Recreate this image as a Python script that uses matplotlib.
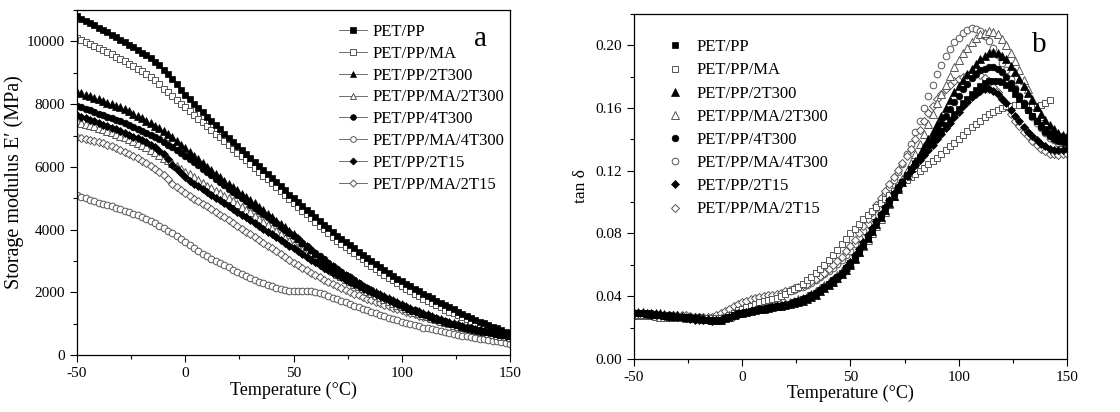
import numpy as np
import matplotlib.pyplot as plt
from matplotlib.lines import Line2D
from matplotlib.ticker import MultipleLocator

plt.rcParams['font.family'] = ['Liberation Serif', 'DejaVu Serif']
plt.rcParams['axes.unicode_minus'] = False

# temperature grid (°C), one reading every 2 °C
temp = np.arange(-50, 151, 2)

names = ['PET/PP', 'PET/PP/MA', 'PET/PP/2T300', 'PET/PP/MA/2T300',
         'PET/PP/4T300', 'PET/PP/MA/4T300', 'PET/PP/2T15', 'PET/PP/MA/2T15']

nan = np.nan

# storage modulus E' (MPa), rows of 20 °C
e_pp = [10800, 10730, 10660, 10590, 10520, 10445, 10370, 10290, 10210, 10130,
        10050, 9970, 9890, 9810, 9730, 9645, 9560, 9460, 9360, 9240,
        9100, 8960, 8800, 8630, 8450, 8300, 8150, 8010, 7870, 7740,
        7600, 7470, 7330, 7200, 7060, 6930, 6800, 6680, 6550, 6420,
        6300, 6170, 6040, 5910, 5780, 5650, 5520, 5390, 5250, 5120,
        5000, 4880, 4760, 4640, 4520, 4400, 4280, 4160, 4040, 3920,
        3800, 3700, 3600, 3500, 3400, 3300, 3200, 3100, 3000, 2900,
        2800, 2710, 2620, 2530, 2440, 2355, 2270, 2190, 2110, 2030,
        1950, 1880, 1810, 1740, 1670, 1600, 1530, 1460, 1390, 1320,
        1250, 1190, 1130, 1070, 1010, 955, 900, 850, 800, 750,
        700]
e_pp_ma = [10100, 10040, 9980, 9920, 9860, 9795, 9730, 9660, 9590, 9520,
           9450, 9370, 9290, 9210, 9130, 9045, 8960, 8870, 8780, 8640,
           8500, 8380, 8260, 8140, 8020, 7900, 7780, 7660, 7540, 7420,
           7300, 7180, 7060, 6940, 6820, 6700, 6580, 6460, 6340, 6220,
           6100, 5970, 5850, 5720, 5600, 5480, 5350, 5230, 5110, 4980,
           4850, 4730, 4610, 4490, 4370, 4250, 4130, 4010, 3890, 3770,
           3650, 3550, 3450, 3350, 3250, 3150, 3050, 2950, 2850, 2750,
           2650, 2560, 2470, 2380, 2290, 2205, 2120, 2040, 1960, 1880,
           1800, 1730, 1660, 1590, 1520, 1455, 1390, 1330, 1270, 1210,
           1150, 1095, 1040, 985, 930, 875, 820, 770, 720, 670,
           620]
e_2t300 = [8400, 8350, 8300, 8250, 8200, 8150, 8100, 8050, 8000, 7950,
           7900, 7840, 7770, 7700, 7620, 7550, 7480, 7400, 7320, 7240,
           7150, 7050, 6940, 6830, 6710, 6600, 6480, 6360, 6240, 6120,
           6000, 5890, 5780, 5670, 5560, 5450, 5350, 5250, 5150, 5050,
           4950, 4840, 4730, 4620, 4510, 4400, 4290, 4180, 4070, 3960,
           3850, 3730, 3610, 3490, 3370, 3250, 3140, 3040, 2940, 2840,
           2750, 2660, 2570, 2480, 2390, 2300, 2220, 2150, 2080, 2010,
           1950, 1880, 1820, 1750, 1680, 1620, 1560, 1500, 1450, 1400,
           1350, 1300, 1250, 1200, 1150, 1100, 1060, 1020, 980, 940,
           900, 870, 840, 810, 780, 755, 730, 705, 680, 660,
           640]
e_ma_2t300 = [7450, 7410, 7370, 7330, 7290, 7245, 7200, 7150, 7100, 7050,
              7000, 6940, 6880, 6820, 6760, 6695, 6630, 6550, 6470, 6385,
              6300, 6210, 6120, 6030, 5940, 5850, 5760, 5670, 5580, 5490,
              5400, 5320, 5240, 5160, 5080, 4995, 4910, 4820, 4730, 4640,
              4550, 4450, 4350, 4250, 4150, 4050, 3950, 3850, 3750, 3650,
              3550, 3450, 3350, 3250, 3150, 3055, 2960, 2870, 2780, 2690,
              2600, 2520, 2440, 2360, 2280, 2205, 2130, 2060, 1990, 1920,
              1850, 1790, 1730, 1670, 1610, 1555, 1500, 1445, 1390, 1335,
              1280, 1235, 1190, 1145, 1100, 1055, 1010, 970, 930, 890,
              850, 820, 790, 760, 730, 705, 680, 650, 620, 595,
              570]
e_4t300 = [7950, 7900, 7850, 7800, 7750, 7700, 7650, 7600, 7550, 7500,
           7450, 7390, 7330, 7270, 7210, 7145, 7080, 7015, 6950, 6875,
           6800, 6715, 6630, 6540, 6450, 6350, 6250, 6150, 6050, 5950,
           5850, 5740, 5630, 5520, 5410, 5305, 5200, 5100, 5000, 4900,
           4800, 4700, 4600, 4500, 4400, 4300, 4200, 4100, 4000, 3900,
           3800, 3690, 3580, 3470, 3360, 3255, 3150, 3050, 2950, 2850,
           2750, 2660, 2570, 2480, 2390, 2305, 2220, 2145, 2070, 1995,
           1920, 1855, 1790, 1725, 1660, 1600, 1540, 1485, 1430, 1375,
           1320, 1270, 1220, 1175, 1130, 1085, 1040, 1000, 960, 920,
           880, 850, 820, 795, 770, 740, 710, 685, 660, 635,
           610]
e_ma_4t300 = [5100, 5050, 5000, 4950, 4900, 4860, 4820, 4780, 4740, 4695,
              4650, 4605, 4560, 4510, 4460, 4400, 4340, 4275, 4210, 4130,
              4050, 3965, 3880, 3790, 3700, 3605, 3510, 3420, 3330, 3240,
              3150, 3080, 3010, 2940, 2870, 2800, 2730, 2660, 2590, 2520,
              2450, 2395, 2340, 2290, 2240, 2195, 2150, 2115, 2080, 2060,
              2040, 2035, 2030, 2030, 2030, 2010, 1980, 1935, 1890, 1835,
              1780, 1730, 1680, 1630, 1580, 1530, 1480, 1430, 1380, 1330,
              1280, 1240, 1200, 1155, 1110, 1070, 1030, 995, 960, 920,
              880, 850, 820, 790, 760, 730, 700, 675, 650, 625,
              600, 575, 550, 525, 500, 480, 460, 435, 410, 390,
              370]
e_2t15 = [7650, 7600, 7550, 7500, 7450, 7400, 7350, 7300, 7250, 7200,
          7150, 7090, 7030, 6970, 6910, 6845, 6780, 6700, 6620, 6520,
          6400, 6240, 6050, 5920, 5800, 5680, 5560, 5470, 5380, 5290,
          5200, 5110, 5020, 4930, 4840, 4750, 4660, 4570, 4480, 4390,
          4300, 4210, 4120, 4030, 3940, 3850, 3760, 3670, 3580, 3490,
          3400, 3310, 3220, 3130, 3040, 2955, 2870, 2790, 2710, 2630,
          2550, 2480, 2410, 2340, 2270, 2200, 2130, 2065, 2000, 1935,
          1870, 1810, 1750, 1690, 1630, 1570, 1510, 1455, 1400, 1350,
          1300, 1250, 1200, 1155, 1110, 1070, 1030, 990, 950, 910,
          870, 840, 810, 785, 760, 730, 700, 675, 650, 625,
          600]
e_ma_2t15 = [6950, 6925, 6900, 6865, 6830, 6795, 6760, 6715, 6670, 6610,
             6550, 6485, 6420, 6350, 6280, 6200, 6120, 6035, 5950, 5850,
             5750, 5600, 5450, 5350, 5250, 5160, 5070, 4990, 4910, 4830,
             4750, 4660, 4570, 4480, 4390, 4300, 4210, 4120, 4030, 3940,
             3850, 3760, 3670, 3580, 3490, 3400, 3310, 3220, 3130, 3040,
             2950, 2870, 2790, 2710, 2630, 2555, 2480, 2410, 2340, 2270,
             2200, 2140, 2080, 2020, 1960, 1905, 1850, 1800, 1750, 1700,
             1650, 1605, 1560, 1515, 1470, 1425, 1380, 1340, 1300, 1260,
             1220, 1185, 1150, 1115, 1080, 1045, 1010, 975, 940, 910,
             880, 845, 810, 780, 750, 720, 690, 660, 630, 595,
             560]

# tan delta, rows of 20 °C
t_pp = [.0290, .0290, .0290, .0285, .0280, .0280, .0280, .0275, .0270, .0270,
        .0270, .0265, .0260, .0260, .0260, .0255, .0250, .0250, .0250, .0250,
        .0250, .0260, .0270, .0280, .0290, .0295, .0300, .0305, .0310, .0315,
        .0320, .0325, .0330, .0335, .0340, .0345, .0350, .0360, .0370, .0380,
        .0390, .0405, .0420, .0440, .0460, .0480, .0500, .0525, .0550, .0580,
        .0610, .0650, .0690, .0735, .0780, .0825, .0870, .0915, .0960, .1005,
        .1050, .1090, .1130, .1170, .1210, .1245, .1280, .1315, .1350, .1385,
        .1420, .1455, .1490, .1525, .1560, .1595, .1630, .1660, .1690, .1715,
        .1740, .1760, .1770, .1775, .1770, .1765, .1750, .1725, .1690, .1655,
        .1620, .1585, .1550, .1520, .1490, .1465, .1440, .1430, .1420, .1415,
        .1410]
t_pp_ma = [.0280, .0280, .0280, .0280, .0280, .0280, .0280, .0275, .0270, .0270,
           .0270, .0270, .0270, .0270, .0270, .0265, .0260, .0260, .0260, .0260,
           .0260, .0270, .0280, .0295, .0310, .0320, .0330, .0340, .0350, .0360,
           .0370, .0375, .0380, .0390, .0400, .0415, .0430, .0445, .0460, .0480,
           .0500, .0525, .0550, .0575, .0600, .0630, .0660, .0695, .0730, .0765,
           .0800, .0830, .0860, .0890, .0920, .0945, .0970, .0995, .1020, .1045,
           .1070, .1095, .1120, .1140, .1160, .1180, .1200, .1220, .1240, .1260,
           .1280, .1305, .1330, .1355, .1380, .1405, .1430, .1455, .1480, .1500,
           .1520, .1540, .1560, .1575, .1590, .1600, .1610, .1615, .1620, .1620,
           .1620, .1615, .1610, .1615, .1620, .1635, .1650, nan, nan, nan,
           nan]
t_2t300 = [.0300, .0300, .0300, .0295, .0290, .0290, .0290, .0285, .0280, .0280,
           .0280, .0275, .0270, .0270, .0270, .0265, .0260, .0255, .0250, .0250,
           .0250, .0260, .0270, .0280, .0290, .0295, .0300, .0305, .0310, .0315,
           .0320, .0325, .0330, .0335, .0340, .0345, .0350, .0355, .0360, .0370,
           .0380, .0395, .0410, .0430, .0450, .0470, .0490, .0515, .0540, .0570,
           .0600, .0640, .0680, .0725, .0770, .0815, .0860, .0905, .0950, .0995,
           .1040, .1085, .1130, .1175, .1220, .1265, .1310, .1355, .1400, .1450,
           .1500, .1550, .1600, .1650, .1700, .1740, .1780, .1815, .1850, .1880,
           .1910, .1930, .1950, .1955, .1950, .1935, .1910, .1870, .1830, .1785,
           .1740, .1695, .1650, .1605, .1560, .1525, .1490, .1465, .1440, .1430,
           .1420]
t_ma_2t300 = [.0280, .0280, .0280, .0280, .0280, .0275, .0270, .0270, .0270, .0270,
              .0270, .0265, .0260, .0260, .0260, .0260, .0260, .0255, .0250, .0255,
              .0260, .0270, .0280, .0290, .0300, .0305, .0310, .0315, .0320, .0325,
              .0330, .0335, .0340, .0345, .0350, .0355, .0360, .0370, .0380, .0390,
              .0400, .0415, .0430, .0450, .0470, .0490, .0510, .0535, .0560, .0585,
              .0610, .0645, .0680, .0720, .0760, .0805, .0850, .0895, .0940, .0990,
              .1040, .1095, .1150, .1200, .1250, .1310, .1370, .1435, .1500, .1565,
              .1630, .1690, .1750, .1805, .1860, .1905, .1950, .1985, .2020, .2045,
              .2070, .2080, .2090, .2085, .2070, .2040, .2000, .1950, .1900, .1840,
              .1780, .1720, .1660, .1605, .1550, .1505, .1460, .1430, .1400, .1385,
              .1370]
t_4t300 = [.0290, .0290, .0290, .0290, .0290, .0285, .0280, .0280, .0280, .0275,
           .0270, .0270, .0270, .0265, .0260, .0255, .0250, .0245, .0240, .0245,
           .0250, .0260, .0270, .0280, .0290, .0295, .0300, .0305, .0310, .0315,
           .0320, .0325, .0330, .0335, .0340, .0345, .0350, .0360, .0370, .0380,
           .0390, .0405, .0420, .0440, .0460, .0480, .0500, .0525, .0550, .0580,
           .0610, .0650, .0690, .0735, .0780, .0825, .0870, .0915, .0960, .1005,
           .1050, .1090, .1130, .1170, .1210, .1250, .1290, .1330, .1370, .1415,
           .1460, .1505, .1550, .1595, .1640, .1680, .1720, .1755, .1790, .1815,
           .1840, .1850, .1860, .1860, .1850, .1830, .1800, .1760, .1720, .1675,
           .1630, .1590, .1550, .1515, .1480, .1450, .1420, .1405, .1390, .1385,
           .1380]
t_ma_4t300 = [.0280, .0280, .0280, .0280, .0280, .0280, .0280, .0280, .0280, .0275,
              .0270, .0270, .0270, .0270, .0270, .0265, .0260, .0260, .0260, .0270,
              .0280, .0295, .0310, .0325, .0340, .0350, .0360, .0370, .0380, .0385,
              .0390, .0395, .0400, .0405, .0410, .0420, .0430, .0440, .0450, .0460,
              .0470, .0485, .0500, .0520, .0540, .0560, .0580, .0605, .0630, .0660,
              .0690, .0730, .0770, .0815, .0860, .0910, .0960, .1005, .1050, .1095,
              .1140, .1190, .1240, .1305, .1370, .1445, .1520, .1600, .1680, .1750,
              .1820, .1875, .1930, .1975, .2020, .2050, .2080, .2095, .2110, .2105,
              .2090, .2060, .2030, .1985, .1940, .1890, .1840, .1785, .1730, .1680,
              .1630, .1585, .1540, .1505, .1470, .1440, .1410, .1395, .1380, .1375,
              .1370]
t_2t15 = [.0290, .0290, .0290, .0285, .0280, .0280, .0280, .0275, .0270, .0270,
          .0270, .0265, .0260, .0255, .0250, .0250, .0250, .0245, .0240, .0245,
          .0250, .0260, .0270, .0275, .0280, .0290, .0300, .0305, .0310, .0315,
          .0320, .0325, .0330, .0335, .0340, .0345, .0350, .0360, .0370, .0380,
          .0390, .0405, .0420, .0440, .0460, .0480, .0500, .0525, .0550, .0585,
          .0620, .0660, .0700, .0745, .0790, .0835, .0880, .0925, .0970, .1015,
          .1060, .1095, .1130, .1165, .1200, .1235, .1270, .1300, .1330, .1365,
          .1400, .1435, .1470, .1505, .1540, .1575, .1610, .1640, .1670, .1690,
          .1710, .1720, .1720, .1710, .1690, .1660, .1630, .1590, .1550, .1515,
          .1480, .1450, .1420, .1395, .1370, .1355, .1340, .1335, .1330, .1335,
          .1340]
t_ma_2t15 = [.0280, .0280, .0280, .0280, .0280, .0280, .0280, .0280, .0280, .0280,
             .0280, .0280, .0280, .0275, .0270, .0270, .0270, .0270, .0270, .0280,
             .0290, .0305, .0320, .0335, .0350, .0360, .0370, .0380, .0390, .0395,
             .0400, .0405, .0410, .0415, .0420, .0430, .0440, .0450, .0460, .0470,
             .0480, .0495, .0510, .0530, .0550, .0575, .0600, .0625, .0650, .0685,
             .0720, .0760, .0800, .0845, .0890, .0935, .0980, .1025, .1070, .1115,
             .1160, .1205, .1250, .1295, .1340, .1400, .1460, .1515, .1570, .1615,
             .1660, .1690, .1720, .1745, .1770, .1785, .1800, .1810, .1820, .1815,
             .1810, .1790, .1770, .1735, .1700, .1655, .1610, .1565, .1520, .1485,
             .1450, .1420, .1390, .1365, .1340, .1325, .1310, .1305, .1300, .1305,
             .1310]

modulus = [e_pp, e_pp_ma, e_2t300, e_ma_2t300, e_4t300, e_ma_4t300, e_2t15, e_ma_2t15]
tandelta = [t_pp, t_pp_ma, t_2t300, t_ma_2t300, t_4t300, t_ma_4t300, t_2t15, t_ma_2t15]

markers = ['s', 's', '^', '^', 'o', 'o', 'D', 'D']
filled = [True, False, True, False, True, False, True, False]
msizes = [4.6, 4.6, 5.2, 5.2, 4.8, 4.8, 4.2, 4.2]
# open (gray) symbols first, black ones on top
order = [5, 7, 3, 1, 6, 4, 2, 0]


def style(i, scale=1.0):
    if filled[i]:
        return dict(marker=markers[i], ms=msizes[i] * scale, mfc='black', mec='black', mew=0.5)
    return dict(marker=markers[i], ms=msizes[i] * scale, mfc='white', mec='#555555', mew=0.7)


fig = plt.figure(figsize=(11.2, 4.12), dpi=100)
ax1 = fig.add_axes([0.0688, 0.138, 0.3866, 0.8375])
ax2 = fig.add_axes([0.566, 0.129, 0.3866, 0.837])

for i in order:
    ax1.plot(temp, modulus[i], ls='none', **style(i))
    ax2.plot(temp, tandelta[i], ls='none', **style(i))

for ax in (ax1, ax2):
    ax.set_xlim(-50, 150)
    ax.xaxis.set_major_locator(MultipleLocator(50))
    ax.xaxis.set_minor_locator(MultipleLocator(25))
    ax.tick_params(which='major', direction='out', length=5, width=0.8, labelsize=11,
                   top=False, right=False)
    ax.tick_params(which='minor', direction='out', length=3, width=0.8, top=False, right=False)
    ax.set_xlabel('Temperature (°C)', fontsize=13, labelpad=1)
    for s in ax.spines.values():
        s.set_linewidth(0.9)

ax1.set_ylim(0, 11000)
ax1.yaxis.set_major_locator(MultipleLocator(2000))
ax1.yaxis.set_minor_locator(MultipleLocator(1000))
ax1.set_ylabel('Storage modulus E\u2032 (MPa)', fontsize=14.5, labelpad=2)

ax2.set_ylim(0, 0.22)
ax2.yaxis.set_major_locator(MultipleLocator(0.04))
ax2.yaxis.set_minor_locator(MultipleLocator(0.02))
ax2.yaxis.set_major_formatter(plt.FuncFormatter(lambda v, p: f'{v:.2f}'))
ax2.set_ylabel('tan \u03b4', fontsize=12.5, labelpad=5)

h1 = [Line2D([], [], ls='-', color='#555555', lw=0.6, **style(i, 0.85)) for i in range(8)]
ax1.legend(h1, names, loc='upper left', bbox_to_anchor=(0.605, 0.96), frameon=False,
           fontsize=12, handlelength=1.7, handletextpad=0.3, labelspacing=0.35,
           borderpad=0, borderaxespad=0)
h2 = [Line2D([], [], ls='none', **style(i)) for i in range(8)]
ax2.legend(h2, names, loc='upper left', bbox_to_anchor=(0.075, 0.927), frameon=False,
           fontsize=12, handlelength=1.0, handletextpad=0.8, labelspacing=0.43,
           borderpad=0, borderaxespad=0)

ax1.text(0.932, 0.915, 'a', transform=ax1.transAxes, fontsize=21, ha='center', va='center')
ax2.text(0.935, 0.91, 'b', transform=ax2.transAxes, fontsize=21, ha='center', va='center',
         bbox=dict(facecolor='white', edgecolor='none', pad=2), zorder=5)

fig.savefig('out.png', dpi=100)
